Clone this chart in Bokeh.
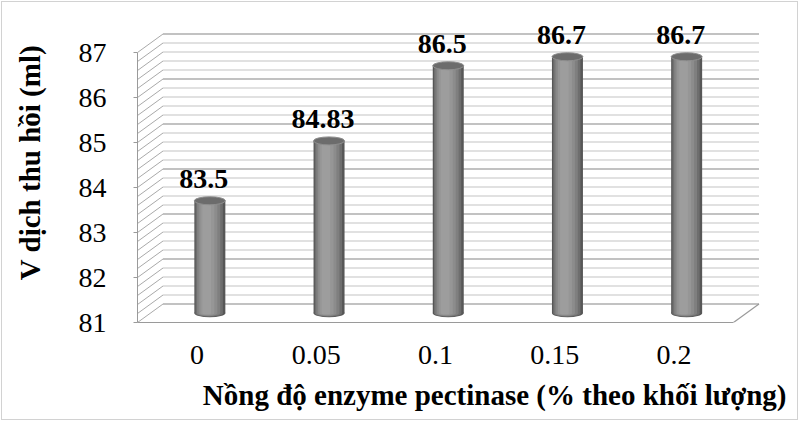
import numpy as np
from bokeh.plotting import figure
from bokeh.models import ColumnDataSource, FixedTicker, Range1d, Title
from bokeh.core.properties import value
from bokeh.embed import file_html
from bokeh.resources import INLINE

# data
categories = ["0", "0.05", "0.1", "0.15", "0.2"]
volumes = [83.5, 84.83, 86.5, 86.7, 86.7]
y_ticks = [81, 82, 83, 84, 85, 86, 87]

x_title = "Nồng độ enzyme pectinase (% theo khối lượng)"
y_title = "V dịch thu hồi (ml)"

FONT = "Liberation Serif"

# layout (pixels)
W, H = 797, 419
left_px, bottom_px = 135, 99
px_x, px_y = 119.2, 45.0          # pixels per category / per ml
dx, dy = 25.5 / px_x, 18.5 / px_y  # 3d depth offset in data units

y0, y1 = y_ticks[0], y_ticks[-1]
x_lo, x_hi = -0.5, len(categories) - 0.5

p = figure(width=W, height=H, output_backend="svg", toolbar_location=None,
           x_range=Range1d(x_lo, x_lo + (W - left_px) / px_x),
           y_range=Range1d(y0, y0 + (H - bottom_px) / px_y),
           min_border_left=left_px, min_border_bottom=bottom_px,
           min_border_top=0, min_border_right=0)
p.styles = {"border": "1px solid #d2d2d2", "margin": "1px"}
p.outline_line_color = None
p.background_fill_color = "white"
p.border_fill_color = "white"
p.xgrid.visible = False
p.ygrid.visible = False

# back wall + left wall grid lines
levels = np.round(np.arange(y0, y1 + 0.001, 0.2), 2)
major = [abs(v - round(v)) < 1e-6 for v in levels]
grid = ColumnDataSource(dict(
    x0=[x_lo + dx] * len(levels), x1=[x_hi + dx] * len(levels),
    y=list(levels + dy),
    color=["#868686" if m else "#c4c4c4" for m in major]))
p.segment(x0="x0", y0="y", x1="x1", y1="y", color="color", line_width=1.2, source=grid)

wall = ColumnDataSource(dict(
    x0=[x_lo] * len(levels), y0=list(levels),
    x1=[x_lo + dx] * len(levels), y1=list(levels + dy)))
p.segment(x0="x0", y0="y0", x1="x1", y1="y1", color="#a9a9a9", line_width=1, source=wall)

# floor right edge
p.segment(x0=[x_hi], y0=[y0], x1=[x_hi + dx], y1=[y0 + dy], color="#9a9a9a", line_width=1.2)

# cylinders: stacked strips give the round shading
xs = [i + dx / 2 for i in range(len(categories))]
tops = [v + dy / 2 for v in volumes]
base = y0 + dy / 2
bw = 31 / px_x
cap_h = 8 / px_y
shades = [(1.00, 0.00, "#575757"), (0.88, -0.02, "#6e6e6e"), (0.75, -0.04, "#7f7f7f"),
          (0.60, -0.06, "#8c8c8c"), (0.45, -0.08, "#969696"), (0.28, -0.10, "#9d9d9d")]
for frac, shift, col in shades:
    cx = [x + shift * bw for x in xs]
    w = bw * frac
    p.vbar(x=cx, width=w, top=tops, bottom=base, fill_color=col, line_color=None)
    p.ellipse(x=cx, y=[base] * len(xs), width=w, height=cap_h * frac, fill_color=col, line_color=None)
p.ellipse(x=xs, y=tops, width=bw, height=cap_h, fill_color="#6c6c6c", line_color="#8e8e8e", line_width=1)

# value labels, a little above each cylinder top
lab_dx, lab_dy = -6 / px_x, 22 / px_y
labels = ColumnDataSource(dict(x=[x + lab_dx for x in xs], y=[t + lab_dy for t in tops],
                               t=[f"{v:g}" for v in volumes]))
p.text(x="x", y="y", text="t", source=labels,
       text_align="center", text_baseline="alphabetic",
       text_font=value(FONT), text_font_style="bold", text_font_size="28px", text_color="black")

# axes
p.yaxis.ticker = FixedTicker(ticks=y_ticks)
p.yaxis.bounds = (y0, y1)
p.yaxis.axis_line_color = "#9a9a9a"
p.yaxis.major_tick_line_color = "#9a9a9a"
p.yaxis.major_tick_out = 4
p.yaxis.major_tick_in = 0
p.yaxis.minor_tick_line_color = None
p.yaxis.major_label_standoff = 27
p.yaxis.major_label_text_font = FONT
p.yaxis.major_label_text_font_size = "28px"
p.yaxis.major_label_text_color = "black"
p.yaxis.axis_label = y_title
p.yaxis.axis_label_text_font = FONT
p.yaxis.axis_label_text_font_style = "bold"
p.yaxis.axis_label_text_font_size = "29px"
p.yaxis.axis_label_text_color = "black"
p.yaxis.axis_label_standoff = 30

p.xaxis.ticker = FixedTicker(ticks=list(range(len(categories))))
p.xaxis.major_label_overrides = {i: c for i, c in enumerate(categories)}
p.xaxis.bounds = (x_lo, x_hi)
p.xaxis.axis_line_color = "#9a9a9a"
p.xaxis.major_tick_line_color = None
p.xaxis.minor_tick_line_color = None
p.xaxis.major_tick_out = 0
p.xaxis.major_label_standoff = 23
p.xaxis.major_label_text_font = FONT
p.xaxis.major_label_text_font_size = "28px"
p.xaxis.major_label_text_color = "black"

p.add_layout(Title(text=x_title, align="right", offset=13, standoff=21,
                   text_font=FONT, text_font_style="bold", text_font_size="29px",
                   text_color="black"), "below")

open("out.html", "w").write(file_html(p, INLINE))
